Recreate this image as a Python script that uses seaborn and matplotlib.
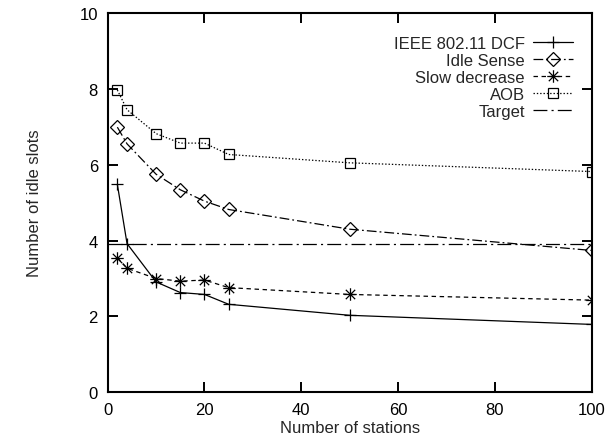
import numpy as np
import pandas as pd
import matplotlib
matplotlib.use("Agg")
import matplotlib.pyplot as plt
from matplotlib.path import Path
import seaborn as sns

stations = [2, 4, 10, 15, 20, 25, 50, 100]
dcf = [5.48, 3.92, 2.91, 2.63, 2.58, 2.32, 2.03, 1.79]
idle_sense = [6.99, 6.55, 5.75, 5.34, 5.04, 4.82, 4.30, 3.74]
slow_decrease = [3.55, 3.27, 3.00, 2.93, 2.96, 2.76, 2.58, 2.43]
aob = [7.97, 7.45, 6.82, 6.57, 6.57, 6.27, 6.05, 5.82]
target_x = [0, 100]
target_y = [3.92, 3.92]

sns.set_theme(style="ticks")
plt.rcParams['font.family'] = ['Liberation Sans', 'DejaVu Sans']
plt.rcParams['lines.scale_dashes'] = False

fig = plt.figure(figsize=(6.16, 4.39), dpi=100)
ax = fig.add_axes([0.1748, 0.1041, 0.7857, 0.8640])

star = Path([(-1, 0), (1, 0), (0, -1), (0, 1), (-0.75, -0.75), (0.75, 0.75), (-0.75, 0.75), (0.75, -0.75)],
            [Path.MOVETO, Path.LINETO] * 4)

lw = 0.9
common = dict(color="black", linewidth=lw, markeredgewidth=0.9,
              markeredgecolor="black", ax=ax)

sns.lineplot(x=stations, y=dcf, marker="+", markersize=8, linestyle="-",
             label="IEEE 802.11 DCF", **common)
sns.lineplot(x=stations, y=idle_sense, marker="D", markersize=7.5, markerfacecolor="none",
             linestyle=(0, (7, 2.2, 1.3, 2.2)),
             label="Idle Sense", **common)
sns.lineplot(x=stations, y=slow_decrease, marker=star, markersize=9,
             linestyle=(0, (3.2, 2.6)),
             label="Slow decrease", **common)
sns.lineplot(x=stations, y=aob, marker="s", markersize=7.5, markerfacecolor="none",
             linestyle=(0, (1.0, 1.4)),
             label="AOB", **common)
sns.lineplot(x=target_x, y=target_y, linestyle=(0, (10, 3, 1.5, 3)),
             label="Target", **common)

ax.set_xlim(0, 100)
ax.set_ylim(0, 10)
ax.set_xticks([0, 20, 40, 60, 80, 100])
ax.set_yticks([0, 2, 4, 6, 8, 10])
for s in ax.spines.values():
    s.set_visible(True)
    s.set_linewidth(1.5)
    s.set_color("black")
ax.tick_params(direction="in", length=7, width=1.4, top=True, right=True,
               labelsize=12, colors="black", pad=7)
ax.set_xlabel("Number of stations", fontsize=12, labelpad=2)
ax.set_ylabel("Number of idle slots", fontsize=12, labelpad=27)

leg = ax.legend(loc="upper right", bbox_to_anchor=(0.962, 0.94), frameon=False,
                markerfirst=False, fontsize=12, handlelength=2.4, handletextpad=0.5,
                labelspacing=0.12, borderpad=0, borderaxespad=0)
for t in leg.get_texts():
    t.set_ha("right")
leg._legend_box.align = "right"

fig.savefig("out.png", dpi=100)
